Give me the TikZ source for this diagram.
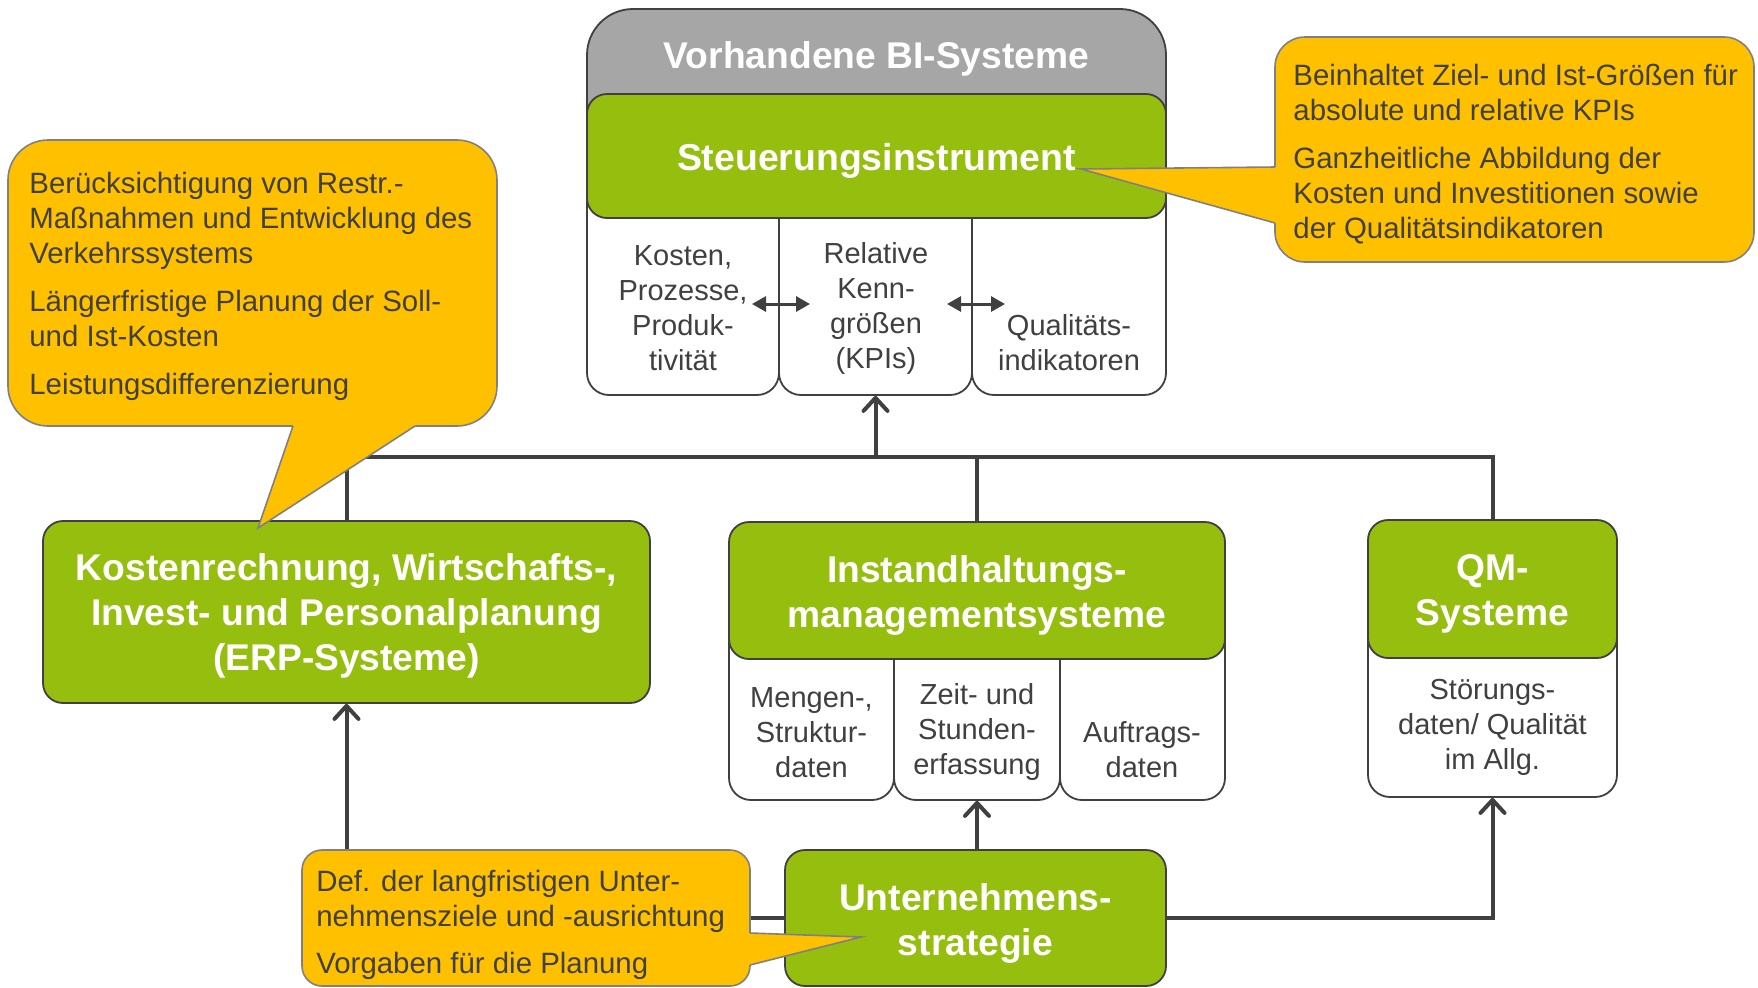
\documentclass[tikz,border=0pt]{standalone}
\usepackage{fontspec}
\setmainfont{Liberation Sans}
\usetikzlibrary{arrows.meta}
\definecolor{lgreen}{HTML}{96BE0E}
\definecolor{callout}{HTML}{FFC000}
\definecolor{hdrgrey}{HTML}{A6A6A6}
\definecolor{dk}{HTML}{404040}
\definecolor{cline}{HTML}{808080}
\begin{document}
\begin{tikzpicture}[x=0.5pt,y=-0.5pt,
  greenbox/.style={draw=dk, line width=0.9pt, fill=lgreen, rounded corners=10pt, inner sep=0pt},
  greentext/.style={text=white, font=\bfseries\fontsize{18.6}{22.5}\selectfont, align=center, inner sep=0pt},
  colbox/.style={draw=dk, line width=0.9pt, fill=white, rounded corners=11pt, inner sep=0pt},
  coltext/.style={text=dk, font=\fontsize{14.5}{17.5}\selectfont, align=center, inner sep=0pt},
  callbox/.style={draw=cline, line width=0.8pt, fill=callout, inner sep=0pt},
  calltext/.style={text=dk, font=\fontsize{14.7}{17.5}\selectfont, align=left, inner sep=0pt, anchor=west},
  conn/.style={draw=dk, line width=2pt},
  upar/.style={-{Straight Barb[length=6.5pt,width=12pt,line cap=round,line join=round]}},
  dblar/.style={draw=dk, line width=1.5pt, {Triangle[length=7pt,width=7.5pt]}-{Triangle[length=7pt,width=7.5pt]}},
  pointerfill/.style={fill=callout},
  pointerline/.style={draw=cline, line width=0.8pt, line join=miter},
]
\fill[white] (0,0) rectangle (1758,987);
\useasboundingbox (0,0) rectangle (1758,987);

% ---------- BI block ----------
\node[draw=dk, line width=0.9pt, fill=hdrgrey, rounded corners=23pt, minimum width=289.5pt, minimum height=105pt, inner sep=0pt] (bihdr) at (876.5,114) {};
\node[greentext, font=\bfseries\fontsize{18.6}{22}\selectfont] (bititle) at (876.5,59) {Vorhandene BI-Systeme};
\node[colbox, minimum width=96pt, minimum height=122.5pt] (bc1) at (683,272.5) {};
\node[colbox, minimum width=96.5pt, minimum height=122.5pt] (bc2) at (875.5,272.5) {};
\node[colbox, minimum width=97pt, minimum height=122.5pt] (bc3) at (1069,272.5) {};
\node[greenbox, minimum width=289.5pt, minimum height=62pt] (steuer) at (876.5,156) {};
\node[greentext, font=\bfseries\fontsize{18.7}{22}\selectfont] (steuertext) at (876.5,160.5) {Steuerungsinstrument};
\node[coltext] (bt1) at (683,308) {Kosten,\\Prozesse,\\Produk-\\tivität};
\node[coltext] (bt2) at (876,308) {Relative\\Kenn-\\größen\\(KPIs)};
\node[coltext] (bt3) at (1069,343) {Qualitäts-\\indikatoren};
\coordinate (da1) at (752,304);
\coordinate (da2) at (810,304);
\coordinate (da3) at (947,304);
\coordinate (da4) at (1005,304);
\draw[dblar] (da1) -- (da2);
\draw[dblar] (da3) -- (da4);

% ---------- middle row ----------
\node[greenbox, minimum width=303.5pt, minimum height=91pt] (kosten) at (346.5,612) {};
\node[greentext] (kostentext) at (346.5,616) {Kostenrechnung, Wirtschafts-,\\Invest- und Personalplanung\\(ERP-Systeme)};

\node[colbox, minimum width=82.5pt, minimum height=90pt] (ic1) at (811.5,710) {};
\node[colbox, minimum width=83pt, minimum height=90pt] (ic2) at (977,710) {};
\node[colbox, minimum width=82.5pt, minimum height=90pt] (ic3) at (1142.5,710) {};
\node[greenbox, minimum width=248pt, minimum height=68.5pt] (instand) at (977,590.5) {};
\node[greentext] (instandtext) at (977,595) {Instandhaltungs-\\managementsysteme};
\node[coltext] (it1) at (811.5,733) {Mengen-,\\Struktur-\\daten};
\node[coltext] (it2) at (977,732) {Zeit- und\\Stunden-\\erfassung};
\node[coltext] (it3) at (1142,750) {Auftrags-\\daten};

\node[colbox, minimum width=124.5pt, minimum height=98.5pt] (qmcol) at (1492.5,698.5) {};
\node[greenbox, minimum width=124.5pt, minimum height=69pt] (qm) at (1492.5,589) {};
\node[greentext] (qmtext) at (1492.5,593.5) {QM-\\Systeme};
\node[coltext] (qmdata) at (1492.5,727) {Störungs-\\daten/ Qualität\\im Allg.};

% ---------- bottom ----------
\node[greenbox, minimum width=190.5pt, minimum height=68pt] (strat) at (975.5,918) {};
\node[greentext] (strattext) at (975.5,923.5) {Unternehmens-\\strategie};

% ---------- connectors ----------
\coordinate (bus) at (876,457);
\draw[conn] (kosten.north) -- (kosten.north |- bus) -- (qm.north |- bus) -- (qm.north);
\draw[conn] (instand.north) -- (instand.north |- bus);
\draw[conn,upar] (bc2.south |- bus) -- (bc2.south);
\draw[conn,upar] (strat.west) -| (kosten.south);
\draw[conn,upar] (ic2.south |- strat.north) -- (ic2.south);
\draw[conn,upar] (strat.east) -| (qmcol.south);

% ---------- callouts ----------
% left
\node[callbox, rounded corners=20pt, minimum width=244.5pt, minimum height=143pt] (cl) at (252.5,283) {};
\fill[pointerfill] (293,418) -- (293,426) -- (258,528) -- (415,426) -- (415,418) -- cycle;
\draw[pointerline] (293,426) -- (258,528) -- (415,426);
\node[calltext] (cltext) at (29,286) {Berücksichtigung von Restr.-\\Maßnahmen und Entwicklung des\\Verkehrssystems\\[6.5pt]Längerfristige Planung der Soll-\\und Ist-Kosten\\[6.5pt]Leistungsdifferenzierung};

% top right
\node[callbox, rounded corners=15pt, minimum width=239.5pt, minimum height=112.5pt] (cr) at (1514.5,149.5) {};
\fill[pointerfill] (1283,167) -- (1275,167) -- (1081,169) -- (1275,223) -- (1283,223) -- cycle;
\draw[pointerline] (1275,167) -- (1081,169) -- (1275,223);
\node[calltext] (crtext) at (1293,154) {Beinhaltet Ziel- und Ist-Größen für\\absolute und relative KPIs\\[6.5pt]Ganzheitliche Abbildung der\\Kosten und Investitionen sowie\\der Qualitätsindikatoren};

% bottom
\node[callbox, rounded corners=10pt, minimum width=224pt, minimum height=68pt] (cb) at (526,918) {};
\fill[pointerfill] (742,933) -- (750,933) -- (861,937) -- (750,965) -- (742,965) -- cycle;
\draw[pointerline] (750,933) -- (861,937) -- (750,965);
\node[calltext] (cbtext) at (316,925) {Def. der langfristigen Unter-\\nehmensziele und -ausrichtung\\[6pt]Vorgaben für die Planung};
\end{tikzpicture}
\end{document}
